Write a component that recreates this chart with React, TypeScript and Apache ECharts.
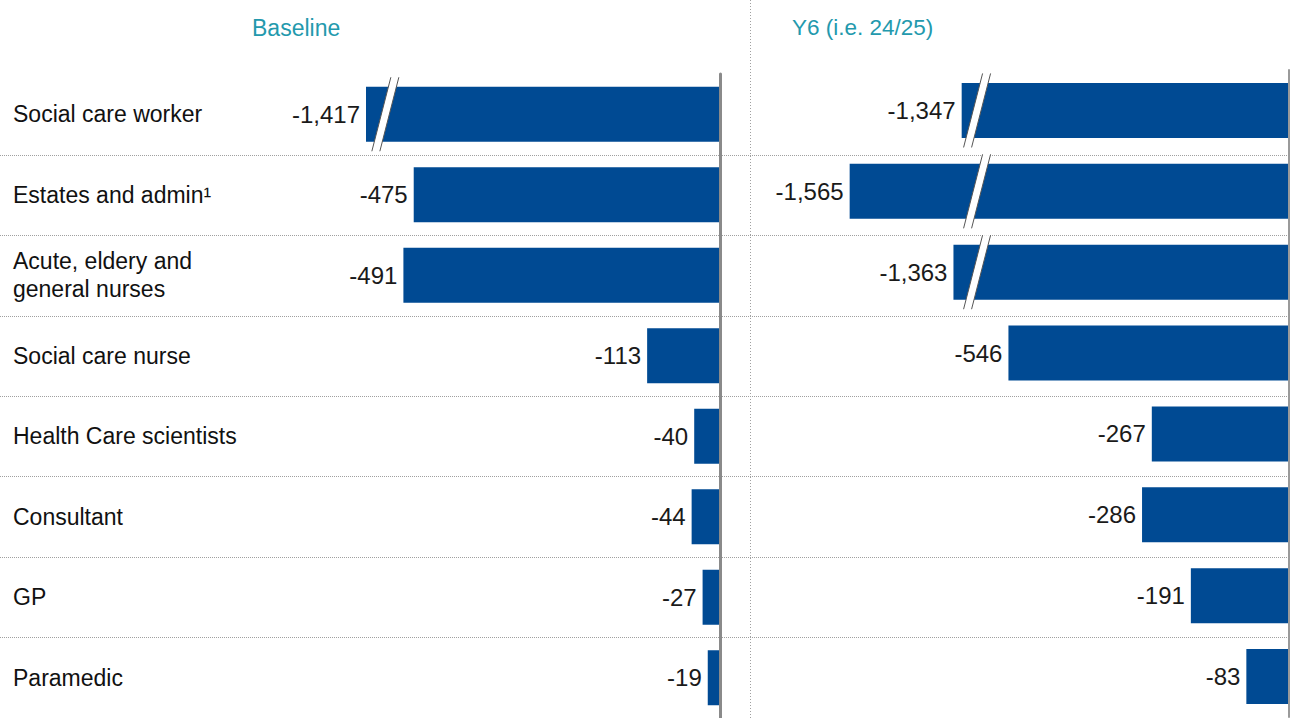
import React, { useEffect, useRef } from "react";
import * as echarts from "echarts";

const categories = [
  "Social care worker",
  "Estates and admin¹",
  "Acute, eldery and\ngeneral nurses",
  "Social care nurse",
  "Health Care scientists",
  "Consultant",
  "GP",
  "Paramedic",
];
const baselineValues = [-1417, -475, -491, -113, -40, -44, -27, -19];
const y6Values = [-1347, -1565, -1363, -546, -267, -286, -191, -83];
const panelTitles = ["Baseline", "Y6 (i.e. 24/25)"];

// axis-break settings: where bars are cut and how many units are cut out
const LEFT_BREAK_AT = -519;
const LEFT_BREAK_CUT = 868;
const RIGHT_BREAK_AT = -607;
const RIGHT_BREAK_CUT = 710;

const FONT = "'Liberation Sans', Arial, Helvetica, sans-serif";
const BAR = "#004a93";
const TEAL = "#2399ad";

const shown = (v: number, at: number, cut: number) => (v < at ? v + cut : v);

function breakMarks(values: number[], at: number) {
  return values
    .map((v, i) => (v < at ? [at, i] : null))
    .filter((d) => d !== null);
}

const renderBreak = (_params: any, api: any) => {
  const p = api.coord([api.value(0), api.value(1)]);
  const half = 37;
  const slant = 9.5;
  const gap = 4;
  const x0 = p[0];
  const y0 = p[1];
  return {
    type: "group",
    children: [
      {
        type: "polygon",
        shape: {
          points: [
            [x0 + slant - gap, y0 - half],
            [x0 + slant + gap, y0 - half],
            [x0 - slant + gap, y0 + half],
            [x0 - slant - gap, y0 + half],
          ],
        },
        style: { fill: "#ffffff" },
      },
      {
        type: "line",
        shape: { x1: x0 + slant - gap, y1: y0 - half, x2: x0 - slant - gap, y2: y0 + half },
        style: { stroke: "#555", lineWidth: 1 },
      },
      {
        type: "line",
        shape: { x1: x0 + slant + gap, y1: y0 - half, x2: x0 - slant + gap, y2: y0 + half },
        style: { stroke: "#555", lineWidth: 1 },
      },
    ],
  };
};

export default function App() {
  const ref = useRef<HTMLDivElement>(null);

  useEffect(() => {
    document.body.style.margin = "0";
    if (!ref.current) return;
    const chart = echarts.init(ref.current, undefined, { renderer: "svg" });

    const barLabel = (vals: number[]) => ({
      show: true,
      position: "left",
      distance: 6,
      fontSize: 24,
      color: "#1a1a1a",
      fontFamily: FONT,
      formatter: (p: any) => vals[p.dataIndex].toLocaleString("en-US"),
    });

    const hiddenCat = (grid: number, color: string, width: number) => ({
      gridIndex: grid,
      type: "category",
      data: categories,
      inverse: true,
      position: "right",
      z: 10,
      axisLine: { show: true, onZero: false, lineStyle: { color, width } },
      axisTick: { show: false },
      axisLabel: { show: false },
      splitLine: { show: false },
    });

    const option: any = {
      animation: false,
      backgroundColor: "#ffffff",
      textStyle: { fontFamily: FONT },
      title: [
        {
          text: panelTitles[0],
          left: 252,
          top: 16,
          padding: 0,
          textStyle: { color: TEAL, fontSize: 23, fontWeight: "normal", fontFamily: FONT },
        },
        {
          text: panelTitles[1],
          left: 792,
          top: 16,
          padding: 0,
          textStyle: { color: TEAL, fontSize: 22.5, fontWeight: "normal", fontFamily: FONT },
        },
      ],
      grid: [
        { left: 366, right: 570, top: 74, height: 647 },
        { left: 751, right: 1, top: 70, height: 647 },
        { left: 0, right: 0, top: 155, height: 565.8 },
      ],
      xAxis: [
        { gridIndex: 0, type: "value", min: -549, max: 0, show: false },
        { gridIndex: 1, type: "value", min: -1047, max: 0, show: false },
        { gridIndex: 2, type: "value", min: 0, max: 1, show: false },
      ],
      yAxis: [
        {
          gridIndex: 0,
          type: "category",
          data: categories,
          inverse: true,
          position: "left",
          axisLine: { show: false, onZero: false },
          axisTick: { show: false },
          splitLine: { show: false },
          axisLabel: {
            align: "left",
            margin: 353,
            fontSize: 23,
            lineHeight: 28,
            color: "#111111",
            fontFamily: FONT,
          },
        },
        hiddenCat(0, "#8a8a8a", 3),
        hiddenCat(1, "#9a9a9a", 2),
        {
          gridIndex: 2,
          type: "value",
          min: 0,
          max: 7,
          interval: 1,
          inverse: true,
          axisLine: { show: false },
          axisTick: { show: false },
          axisLabel: { show: false },
          splitLine: { show: true, lineStyle: { type: "dotted", color: "#a0a0a0", width: 1 } },
        },
      ],
      graphic: [
        {
          type: "line",
          shape: { x1: 750.5, y1: 0, x2: 750.5, y2: 718 },
          style: { stroke: "#a0a0a0", lineWidth: 1, lineDash: [1, 2] },
          z: 1,
        },
      ],
      series: [
        {
          name: panelTitles[0],
          type: "bar",
          xAxisIndex: 0,
          yAxisIndex: 0,
          barWidth: 55,
          itemStyle: { color: BAR },
          label: barLabel(baselineValues),
          data: baselineValues.map((v) => shown(v, LEFT_BREAK_AT, LEFT_BREAK_CUT)),
        },
        {
          name: panelTitles[1],
          type: "bar",
          xAxisIndex: 1,
          yAxisIndex: 2,
          barWidth: 55,
          itemStyle: { color: BAR },
          label: barLabel(y6Values),
          data: y6Values.map((v) => shown(v, RIGHT_BREAK_AT, RIGHT_BREAK_CUT)),
        },
        {
          type: "custom",
          xAxisIndex: 0,
          yAxisIndex: 0,
          z: 5,
          encode: { x: 0, y: 1 },
          renderItem: renderBreak,
          data: breakMarks(baselineValues, LEFT_BREAK_AT),
        },
        {
          type: "custom",
          xAxisIndex: 1,
          yAxisIndex: 2,
          z: 5,
          encode: { x: 0, y: 1 },
          renderItem: renderBreak,
          data: breakMarks(y6Values, RIGHT_BREAK_AT),
        },
      ],
    };

    chart.setOption(option);
    return () => chart.dispose();
  }, []);

  return <div ref={ref} style={{ width: 1290, height: 718 }} />;
}
